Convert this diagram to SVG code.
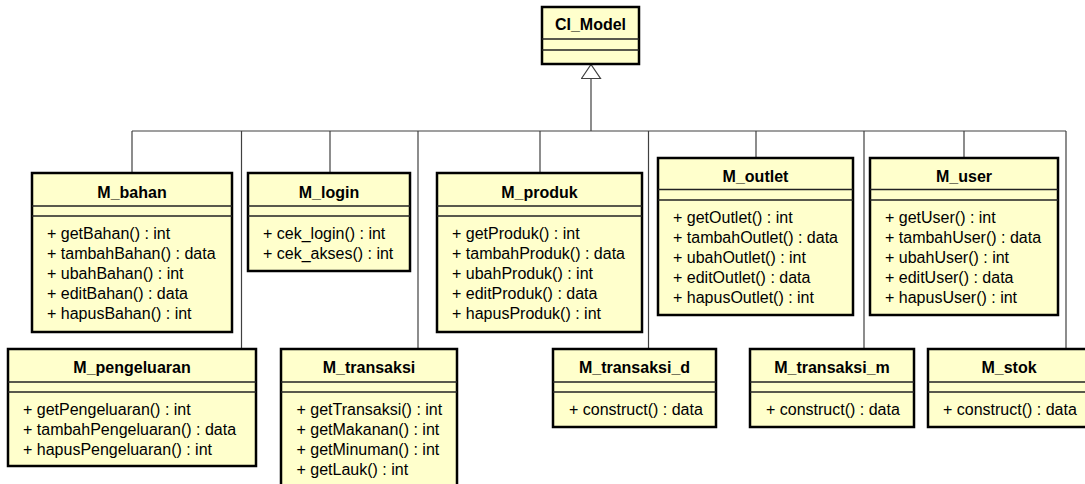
<svg xmlns="http://www.w3.org/2000/svg" width="1085" height="484" viewBox="0 0 1085 484">
  <style>
    .box { fill: #FFFFCC; stroke: #000; stroke-width: 2.5; }
    .sep { stroke: #222; stroke-width: 1.3; }
    .title { font-family: "Liberation Sans", Arial, sans-serif; font-size: 16px; font-weight: bold; fill: #000; text-anchor: middle; }
    .op { font-family: "Liberation Sans", Arial, sans-serif; font-size: 16px; fill: #000; }
    .conn { fill: none; stroke: #404040; stroke-width: 1.2; }
  </style>
  <defs>
    <marker id="gen" markerUnits="userSpaceOnUse" markerWidth="16" markerHeight="22" refX="15" refY="10.5" orient="auto" viewBox="0 0 16 22">
      <path d="M1,1 L15,10.5 L1,20 Z" fill="#fff" stroke="#404040" stroke-width="1.2"/>
    </marker>
  </defs>
  <rect width="1085" height="484" fill="#fff"/>

  <!-- inheritance connectors -->
  <g id="connectors">
    <path class="conn" d="M132,131 H1066"/>
    <path class="conn" d="M591,131 V64.5" marker-end="url(#gen)"/>
    <path class="conn" d="M132,131 V173"/>
    <path class="conn" d="M241.5,131 V349"/>
    <path class="conn" d="M330,131 V173"/>
    <path class="conn" d="M418,131 V349"/>
    <path class="conn" d="M540,131 V173"/>
    <path class="conn" d="M648.5,131 V349"/>
    <path class="conn" d="M756,131 V158"/>
    <path class="conn" d="M864,131 V349"/>
    <path class="conn" d="M964,131 V158"/>
    <path class="conn" d="M1066,131 V349"/>
  </g>

  <g id="CI_Model">
    <rect class="box" x="542" y="7" width="97" height="57"/>
    <line class="sep" x1="542" y1="39" x2="639" y2="39"/>
    <line class="sep" x1="542" y1="50" x2="639" y2="50"/>
    <text class="title" x="590.5" y="30">CI_Model</text>
  </g>

  <g id="M_bahan">
    <rect class="box" x="32" y="173" width="200" height="159"/>
    <line class="sep" x1="32" y1="206" x2="232" y2="206"/>
    <line class="sep" x1="32" y1="216" x2="232" y2="216"/>
    <text class="title" x="132" y="197.5">M_bahan</text>
    <text class="op" x="47" y="239">+ getBahan() : int</text>
    <text class="op" x="47" y="259">+ tambahBahan() : data</text>
    <text class="op" x="47" y="279">+ ubahBahan() : int</text>
    <text class="op" x="47" y="299">+ editBahan() : data</text>
    <text class="op" x="47" y="319">+ hapusBahan() : int</text>
  </g>

  <g id="M_login">
    <rect class="box" x="248" y="173" width="162" height="98"/>
    <line class="sep" x1="248" y1="206" x2="410" y2="206"/>
    <line class="sep" x1="248" y1="216" x2="410" y2="216"/>
    <text class="title" x="329" y="197.5">M_login</text>
    <text class="op" x="263" y="239">+ cek_login() : int</text>
    <text class="op" x="263" y="259">+ cek_akses() : int</text>
  </g>

  <g id="M_produk">
    <rect class="box" x="437" y="173" width="205" height="159"/>
    <line class="sep" x1="437" y1="206" x2="642" y2="206"/>
    <line class="sep" x1="437" y1="216" x2="642" y2="216"/>
    <text class="title" x="539.5" y="197.5">M_produk</text>
    <text class="op" x="452" y="239">+ getProduk() : int</text>
    <text class="op" x="452" y="259">+ tambahProduk() : data</text>
    <text class="op" x="452" y="279">+ ubahProduk() : int</text>
    <text class="op" x="452" y="299">+ editProduk() : data</text>
    <text class="op" x="452" y="319">+ hapusProduk() : int</text>
  </g>

  <g id="M_outlet">
    <rect class="box" x="658" y="158" width="195" height="157"/>
    <line class="sep" x1="658" y1="189.5" x2="853" y2="189.5"/>
    <line class="sep" x1="658" y1="200" x2="853" y2="200"/>
    <text class="title" x="755.5" y="182">M_outlet</text>
    <text class="op" x="673" y="222.5">+ getOutlet() : int</text>
    <text class="op" x="673" y="242.5">+ tambahOutlet() : data</text>
    <text class="op" x="673" y="262.5">+ ubahOutlet() : int</text>
    <text class="op" x="673" y="282.5">+ editOutlet() : data</text>
    <text class="op" x="673" y="302.5">+ hapusOutlet() : int</text>
  </g>

  <g id="M_user">
    <rect class="box" x="870" y="158" width="188" height="157"/>
    <line class="sep" x1="870" y1="189.5" x2="1058" y2="189.5"/>
    <line class="sep" x1="870" y1="200" x2="1058" y2="200"/>
    <text class="title" x="964" y="182">M_user</text>
    <text class="op" x="885" y="222.5">+ getUser() : int</text>
    <text class="op" x="885" y="242.5">+ tambahUser() : data</text>
    <text class="op" x="885" y="262.5">+ ubahUser() : int</text>
    <text class="op" x="885" y="282.5">+ editUser() : data</text>
    <text class="op" x="885" y="302.5">+ hapusUser() : int</text>
  </g>

  <g id="M_pengeluaran">
    <rect class="box" x="8" y="349" width="248" height="117"/>
    <line class="sep" x1="8" y1="382" x2="256" y2="382"/>
    <line class="sep" x1="8" y1="392" x2="256" y2="392"/>
    <text class="title" x="132" y="373">M_pengeluaran</text>
    <text class="op" x="23" y="414.5">+ getPengeluaran() : int</text>
    <text class="op" x="23" y="434.5">+ tambahPengeluaran() : data</text>
    <text class="op" x="23" y="454.5">+ hapusPengeluaran() : int</text>
  </g>

  <g id="M_transaksi">
    <rect class="box" x="281" y="349" width="176" height="145"/>
    <line class="sep" x1="281" y1="382" x2="457" y2="382"/>
    <line class="sep" x1="281" y1="392" x2="457" y2="392"/>
    <text class="title" x="369" y="373">M_transaksi</text>
    <text class="op" x="296.5" y="414.5">+ getTransaksi() : int</text>
    <text class="op" x="296.5" y="434.5">+ getMakanan() : int</text>
    <text class="op" x="296.5" y="454.5">+ getMinuman() : int</text>
    <text class="op" x="296.5" y="474.5">+ getLauk() : int</text>
  </g>

  <g id="M_transaksi_d">
    <rect class="box" x="553" y="349" width="163" height="78"/>
    <line class="sep" x1="553" y1="382" x2="716" y2="382"/>
    <line class="sep" x1="553" y1="392" x2="716" y2="392"/>
    <text class="title" x="634.5" y="373">M_transaksi_d</text>
    <text class="op" x="569" y="414.5">+ construct() : data</text>
  </g>

  <g id="M_transaksi_m">
    <rect class="box" x="750" y="349" width="164" height="78"/>
    <line class="sep" x1="750" y1="382" x2="914" y2="382"/>
    <line class="sep" x1="750" y1="392" x2="914" y2="392"/>
    <text class="title" x="832" y="373">M_transaksi_m</text>
    <text class="op" x="766" y="414.5">+ construct() : data</text>
  </g>

  <g id="M_stok">
    <rect class="box" x="928" y="349" width="162" height="78"/>
    <line class="sep" x1="928" y1="382" x2="1090" y2="382"/>
    <line class="sep" x1="928" y1="392" x2="1090" y2="392"/>
    <text class="title" x="1009" y="373">M_stok</text>
    <text class="op" x="943" y="414.5">+ construct() : data</text>
  </g>
</svg>
